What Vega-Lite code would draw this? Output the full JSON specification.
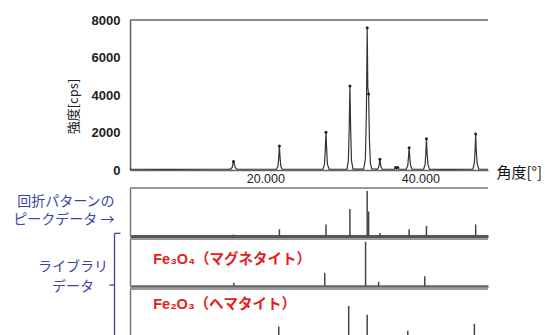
{
  "$schema": "https://vega.github.io/schema/vega-lite/v6.json",
  "padding": {"left": 12, "top": 14, "right": 0, "bottom": 0},
  "background": "white",
  "config": {"view": {"stroke": null}, "concat": {"spacing": 3}, "axis": {"labelOverlap": false}},
  "datasets": {
    "profile": [
      {"deg": 5, "cps": 40}, {"deg": 10, "cps": 35}, {"deg": 15, "cps": 40}, {"deg": 17.8, "cps": 45},
      {"deg": 18.0, "cps": 50}, {"deg": 18.2, "cps": 150}, {"deg": 18.3, "cps": 380}, {"deg": 18.36, "cps": 450}, {"deg": 18.45, "cps": 330}, {"deg": 18.6, "cps": 120}, {"deg": 18.8, "cps": 50},
      {"deg": 21, "cps": 40}, {"deg": 23.8, "cps": 40},
      {"deg": 23.9, "cps": 40}, {"deg": 24.1, "cps": 200}, {"deg": 24.2, "cps": 700}, {"deg": 24.28, "cps": 1280}, {"deg": 24.36, "cps": 700}, {"deg": 24.46, "cps": 200}, {"deg": 24.65, "cps": 40},
      {"deg": 29.8, "cps": 40},
      {"deg": 29.9, "cps": 40}, {"deg": 30.1, "cps": 300}, {"deg": 30.2, "cps": 1100}, {"deg": 30.29, "cps": 2010}, {"deg": 30.38, "cps": 1100}, {"deg": 30.48, "cps": 300}, {"deg": 30.7, "cps": 40},
      {"deg": 32.9, "cps": 45},
      {"deg": 33.0, "cps": 50}, {"deg": 33.18, "cps": 500}, {"deg": 33.29, "cps": 2300}, {"deg": 33.38, "cps": 4480}, {"deg": 33.47, "cps": 2300}, {"deg": 33.58, "cps": 500}, {"deg": 33.78, "cps": 50},
      {"deg": 35.15, "cps": 50}, {"deg": 35.38, "cps": 600}, {"deg": 35.51, "cps": 3200}, {"deg": 35.61, "cps": 7590}, {"deg": 35.69, "cps": 4400}, {"deg": 35.79, "cps": 4050}, {"deg": 35.9, "cps": 1600}, {"deg": 36.02, "cps": 350}, {"deg": 36.2, "cps": 60},
      {"deg": 36.95, "cps": 45}, {"deg": 37.12, "cps": 180}, {"deg": 37.25, "cps": 570}, {"deg": 37.38, "cps": 180}, {"deg": 37.55, "cps": 45},
      {"deg": 39.15, "cps": 40}, {"deg": 39.28, "cps": 140}, {"deg": 39.4, "cps": 50}, {"deg": 39.55, "cps": 140}, {"deg": 39.7, "cps": 40},
      {"deg": 40.65, "cps": 40}, {"deg": 40.85, "cps": 250}, {"deg": 40.94, "cps": 700}, {"deg": 41.02, "cps": 1190}, {"deg": 41.1, "cps": 700}, {"deg": 41.2, "cps": 250}, {"deg": 41.4, "cps": 40},
      {"deg": 42.9, "cps": 40}, {"deg": 43.08, "cps": 300}, {"deg": 43.18, "cps": 900}, {"deg": 43.26, "cps": 1670}, {"deg": 43.34, "cps": 900}, {"deg": 43.45, "cps": 300}, {"deg": 43.65, "cps": 40},
      {"deg": 46, "cps": 35},
      {"deg": 49.25, "cps": 40}, {"deg": 49.43, "cps": 350}, {"deg": 49.53, "cps": 1000}, {"deg": 49.61, "cps": 1920}, {"deg": 49.69, "cps": 1000}, {"deg": 49.8, "cps": 350}, {"deg": 50.0, "cps": 40},
      {"deg": 51.2, "cps": 40}
    ],
    "tops": [
      {"deg": 18.36, "cps": 450}, {"deg": 24.28, "cps": 1280}, {"deg": 30.29, "cps": 2010}, {"deg": 33.38, "cps": 4480},
      {"deg": 35.61, "cps": 7590}, {"deg": 35.79, "cps": 4050}, {"deg": 37.25, "cps": 570}, {"deg": 39.28, "cps": 140}, {"deg": 39.55, "cps": 140},
      {"deg": 41.02, "cps": 1190}, {"deg": 43.26, "cps": 1670}, {"deg": 49.61, "cps": 1920}
    ],
    "peakdata": [
      {"deg": 18.36, "h": 3}, {"deg": 24.28, "h": 14}, {"deg": 30.29, "h": 24}, {"deg": 33.38, "h": 56},
      {"deg": 35.61, "h": 94}, {"deg": 35.79, "h": 51}, {"deg": 37.25, "h": 6}, {"deg": 41.02, "h": 14},
      {"deg": 43.26, "h": 21}, {"deg": 49.61, "h": 24}
    ],
    "magnetite": [
      {"deg": 18.4, "h": 7}, {"deg": 30.13, "h": 28}, {"deg": 35.4, "h": 94}, {"deg": 37.08, "h": 9}, {"deg": 43.04, "h": 21}
    ],
    "hematite": [
      {"deg": 24.2, "h": 20}, {"deg": 33.22, "h": 64}, {"deg": 35.61, "h": 45}, {"deg": 40.85, "h": 11}, {"deg": 49.44, "h": 26}
    ]
  },
  "bounds": "flush",
  "spacing": 18,
  "vconcat": [
    {
      "width": 358,
      "height": 150,
      "encoding": {
        "y": {"type": "quantitative",
          "scale": {"domain": [0, 8000], "nice": false},
          "axis": {"values": [0, 2000, 4000, 6000, 8000], "format": "d", "labelOverlap": false, "labelFont": "Liberation Sans", "labelFontSize": 13, "labelFontWeight": "bold",
            "labelColor": "#222222", "labelPadding": 10, "ticks": false, "grid": false, "domainColor": "#666666", "domainWidth": 1.6,
            "title": "強度[cps]", "titleFont": "Noto Sans CJK JP", "titleFontSize": 13, "titleFontWeight": "normal", "titleColor": "#222222",
            "titleAngle": -90, "titleAlign": "center", "titleBaseline": "middle", "titleX": -57, "titleY": 86}}
      },
      "layer": [
        {
          "data": {"name": "profile"},
          "mark": {"type": "line", "color": "#333333", "strokeWidth": 1.2},
          "encoding": {
            "x": {"field": "deg", "type": "quantitative",
              "scale": {"domain": [5, 51.2], "nice": false, "zero": false},
              "axis": {"values": [20, 40], "format": ".3f", "labelAlign": "left", "labelDx": -5, "labelFlush": false,
                "labelFont": "Liberation Sans", "labelFontSize": 12.5, "labelColor": "#222222", "labelPadding": 2,
                "ticks": false, "grid": false, "domainColor": "#666666", "domainWidth": 1.6,
                "title": "角度[°]", "titleFont": "Noto Sans CJK JP", "titleFontSize": 15, "titleFontWeight": "normal",
                "titleColor": "#111111", "titleAlign": "left", "titleBaseline": "middle", "titleX": 366, "titleY": 2}},
            "y": {"field": "cps"}
          }
        },
        {
          "data": {"name": "tops"},
          "mark": {"type": "point", "filled": true, "size": 9, "color": "#222222", "opacity": 1},
          "encoding": {
            "x": {"field": "deg", "type": "quantitative"},
            "y": {"field": "cps"}
          }
        },
        {
          "data": {"values": [{}]},
          "mark": {"type": "rule", "color": "#666666", "strokeWidth": 1.6},
          "encoding": {"y": {"datum": 8000}}
        }
      ]
    },
    {
      "bounds": "flush",
      "spacing": 3,
      "vconcat": [
        {
          "width": 358,
          "height": 48,
          "layer": [
            {
              "data": {"name": "peakdata"},
              "mark": {"type": "rule", "color": "#444444", "strokeWidth": 1.5},
              "encoding": {
                "x": {"field": "deg", "type": "quantitative", "scale": {"domain": [5, 51.2], "nice": false, "zero": false},
                  "axis": {"labels": false, "ticks": false, "grid": false, "title": null, "domainColor": "#555555", "domainWidth": 3}},
                "y": {"field": "h", "type": "quantitative", "scale": {"domain": [0, 100], "nice": false},
                  "axis": {"labels": false, "ticks": false, "grid": false, "domainColor": "#777777", "domainWidth": 1.5,
                    "title": ["回折パターンの", "ピークデータ →"], "titleFont": "Noto Sans CJK JP", "titleFontSize": 14, "titleFontWeight": "normal",
                    "titleColor": "#3d44a6", "titleAngle": 0, "titleAlign": "right", "titleBaseline": "middle", "titleLineHeight": 18,
                    "titleX": -16, "titleY": 13}},
                "y2": {"datum": 0}
              }
            },
            {
              "data": {"values": [{}]},
              "mark": {"type": "rule", "color": "#777777", "strokeWidth": 1.5},
              "encoding": {"y": {"datum": 100, "type": "quantitative"}}
            }
          ]
        },
        {
          "width": 358,
          "height": 47,
          "layer": [
            {
              "data": {"name": "magnetite"},
              "mark": {"type": "rule", "color": "#444444", "strokeWidth": 1.5},
              "encoding": {
                "x": {"field": "deg", "type": "quantitative", "scale": {"domain": [5, 51.2], "nice": false, "zero": false},
                  "axis": {"labels": false, "ticks": false, "grid": false, "title": null, "domainColor": "#666666", "domainWidth": 2.5}},
                "y": {"field": "h", "type": "quantitative", "scale": {"domain": [0, 100], "nice": false},
                  "axis": {"labels": false, "ticks": false, "grid": false, "domainColor": "#777777", "domainWidth": 1.5,
                    "title": ["ライブラリ", "データ"], "titleFont": "Noto Sans CJK JP", "titleFontSize": 14, "titleFontWeight": "normal",
                    "titleColor": "#3d44a6", "titleAngle": 0, "titleAlign": "center", "titleBaseline": "middle", "titleLineHeight": 19.5,
                    "titleX": -57.5, "titleY": 27.5}},
                "y2": {"datum": 0}
              }
            },
            {
              "data": {"values": [{}]},
              "mark": {"type": "rule", "color": "#777777", "strokeWidth": 1.5},
              "encoding": {"y": {"datum": 100, "type": "quantitative"}}
            },
            {
              "data": {"values": [{"label": "Fe₃O₄（マグネタイト）"}]},
              "mark": {"type": "text", "align": "left", "baseline": "middle", "font": "Liberation Sans, Noto Sans CJK JP", "fontSize": 14.5, "fontWeight": "bold", "color": "#e3211c"},
              "encoding": {
                "x": {"datum": 8.0, "type": "quantitative"},
                "y": {"datum": 56, "type": "quantitative"},
                "text": {"field": "label"}
              }
            },
            {
              "data": {"values": [{}]},
              "mark": {"type": "rule", "color": "#3d44a6", "strokeWidth": 1.3},
              "encoding": {
                "x": {"datum": 3.0, "type": "quantitative"},
                "y": {"datum": 112, "type": "quantitative"},
                "y2": {"datum": -120}
              }
            },
            {
              "data": {"values": [{}]},
              "mark": {"type": "rule", "color": "#3d44a6", "strokeWidth": 1.3},
              "encoding": {
                "x": {"datum": 3.0, "type": "quantitative"},
                "x2": {"datum": 3.77},
                "y": {"datum": 112, "type": "quantitative"}
              }
            },
            {
              "data": {"values": [{}]},
              "mark": {"type": "rule", "color": "#3d44a6", "strokeWidth": 1.3},
              "encoding": {
                "x": {"datum": 2.35, "type": "quantitative"},
                "x2": {"datum": 3.0},
                "y": {"datum": 2, "type": "quantitative"}
              }
            }
          ]
        },
        {
          "width": 358,
          "height": 47,
          "layer": [
            {
              "data": {"name": "hematite"},
              "mark": {"type": "rule", "color": "#444444", "strokeWidth": 1.5},
              "encoding": {
                "x": {"field": "deg", "type": "quantitative", "scale": {"domain": [5, 51.2], "nice": false, "zero": false},
                  "axis": {"labels": false, "ticks": false, "grid": false, "title": null, "domainColor": "#666666", "domainWidth": 2.5}},
                "y": {"field": "h", "type": "quantitative", "scale": {"domain": [0, 100], "nice": false},
                  "axis": {"labels": false, "ticks": false, "grid": false, "title": null, "domainColor": "#777777", "domainWidth": 1.5}},
                "y2": {"datum": 0}
              }
            },
            {
              "data": {"values": [{}]},
              "mark": {"type": "rule", "color": "#777777", "strokeWidth": 1.5},
              "encoding": {"y": {"datum": 100, "type": "quantitative"}}
            },
            {
              "data": {"values": [{"label": "Fe₂O₃（ヘマタイト）"}]},
              "mark": {"type": "text", "align": "left", "baseline": "middle", "font": "Liberation Sans, Noto Sans CJK JP", "fontSize": 14.5, "fontWeight": "bold", "color": "#e3211c"},
              "encoding": {
                "x": {"datum": 8.0, "type": "quantitative"},
                "y": {"datum": 67, "type": "quantitative"},
                "text": {"field": "label"}
              }
            }
          ]
        }
      ]
    }
  ]
}
